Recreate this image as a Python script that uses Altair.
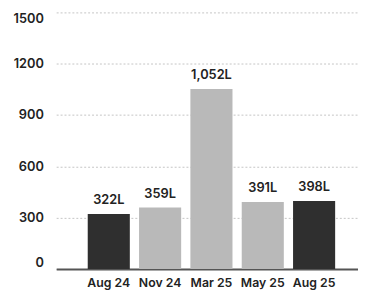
import altair as alt
import pandas as pd

months = ["Aug 24", "Nov 24", "Mar 25", "May 25", "Aug 25"]
litres = [322, 359, 1052, 391, 398]
labels = ["322L", "359L", "1,052L", "391L", "398L"]
shade = ["dark", "light", "light", "light", "dark"]

df = pd.DataFrame({"month": months, "litres": litres, "label": labels, "shade": shade})

FONT = "Inter"

x = alt.X("month:N", sort=months, title=None,
          scale=alt.Scale(paddingInner=0.18, paddingOuter=0.53, align=0.58),
          axis=alt.Axis(labelAngle=0, ticks=False, domain=True, domainColor="#555555",
                        domainWidth=2, labelFont=FONT, labelFontSize=12.5, labelFontWeight=600,
                        labelColor="#222222", labelPadding=8, grid=False))
y = alt.Y("litres:Q", title=None,
          scale=alt.Scale(domain=[0, 1500], nice=False),
          axis=alt.Axis(values=[0, 300, 600, 900, 1200, 1500], format="d", ticks=False, domain=False,
                        labelFont=FONT, labelFontSize=13, labelFontWeight=600,
                        labelColor="#222222", labelPadding=13, labelFlush=True,
                        grid=True, gridColor="#c4c4c4", gridDash=[2, 2], gridWidth=1))

bars = alt.Chart(df).mark_bar().encode(
    x=x, y=y,
    color=alt.Color("shade:N", legend=None,
                    scale=alt.Scale(domain=["dark", "light"], range=["#2f2f2f", "#b9b9b9"])),
)

text = alt.Chart(df).mark_text(dy=-14, font=FONT, fontSize=13, fontWeight=600, color="#222222").encode(
    x=alt.X("month:N", sort=months), y="litres:Q", text="label:N"
)

chart = (bars + text).properties(
    width=307, height=261,
    padding={"left": 5, "top": 2, "right": 0, "bottom": 5},
).configure_view(stroke=None)

chart.save("out.html", embed_options={"renderer": "svg", "actions": False})
